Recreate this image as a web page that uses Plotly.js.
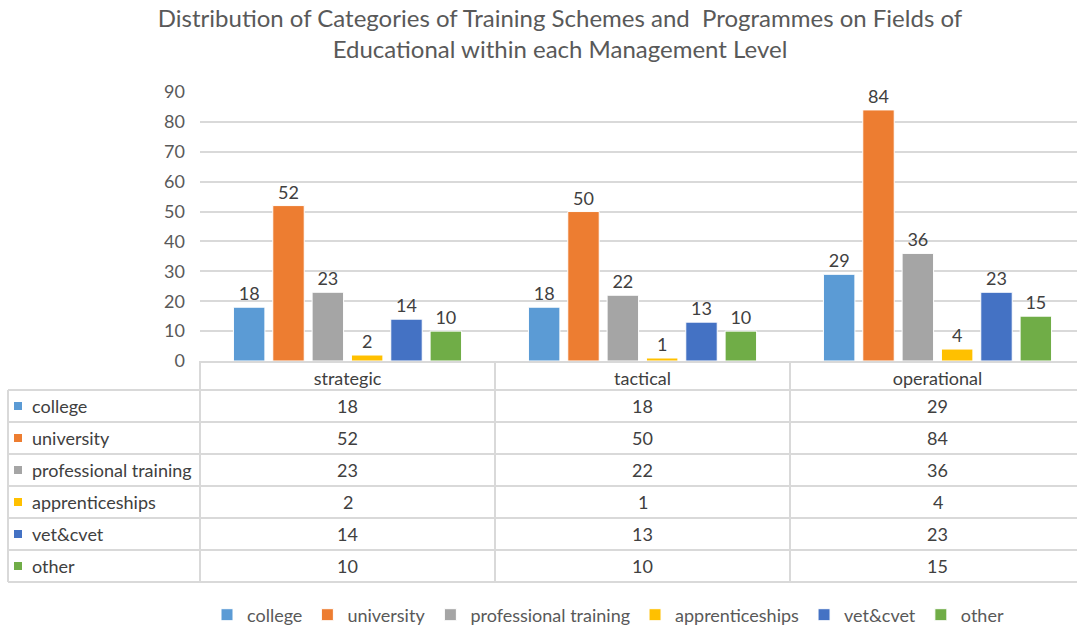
<!DOCTYPE html>
<html>
<head>
<meta charset="utf-8">
<script src="https://cdn.plot.ly/plotly-3.0.1.min.js"></script>
<style>
  html, body { margin: 0; padding: 0; overflow: hidden; background: #fff; }
  #plotArea { width: 1085px; height: 630px; }
</style>
</head>
<body>
<div id="plotArea"></div>
<script>
var categories = ["strategic", "tactical", "operational"];
var seriesNames = ["college", "university", "professional training", "apprenticeships", "vet&cvet", "other"];
var college = [18, 18, 29];
var university = [52, 50, 84];
var professional = [23, 22, 36];
var apprenticeships = [2, 1, 4];
var vetCvet = [14, 13, 23];
var other = [10, 10, 15];
var colors = ["#5B9BD5", "#ED7D31", "#A5A5A5", "#FFC000", "#4472C4", "#70AD47"];

var series = [college, university, professional, apprenticeships, vetCvet, other];

// page geometry (pixels) used to place the data table under the plot
var W = 1085, H = 630, L = 200, T = 92, B = 269;
var plotW = W - L, plotH = H - T - B;
function px(x) { return (x - L) / plotW; }
function py(y) { return (H - B - y) / plotH; }

var font = "Lato, 'Open Sans', sans-serif";
var fs = 18;
var gridCol = "#d9d9d9";

var traces = series.map(function (vals, i) {
  return {
    type: "bar",
    name: seriesNames[i],
    x: categories,
    y: vals,
    text: vals.map(String),
    textposition: "outside",
    cliponaxis: false,
    textfont: { family: font, size: fs, color: "#404040" },
    marker: { color: colors[i], line: { color: "#ffffff", width: 1 } }
  };
});

var shapes = [];
var annotations = [];
var rowTop = 390, rowH = 32, headTop = 361;
var colEdges = [200, 495, 790, 1085];
var tableBottom = rowTop + rowH * seriesNames.length;

function hline(y, x0, x1) {
  shapes.push({ type: "line", xref: "paper", yref: "paper", x0: px(x0), x1: px(x1), y0: py(y), y1: py(y),
    line: { color: gridCol, width: 2 } });
}
function vline(x, y0, y1) {
  shapes.push({ type: "line", xref: "paper", yref: "paper", x0: px(x), x1: px(x), y0: py(y0), y1: py(y1),
    line: { color: gridCol, width: 2 } });
}

for (var r = 0; r <= seriesNames.length; r++) hline(rowTop + r * rowH, 8, W);
colEdges.forEach(function (x) { vline(x, headTop, tableBottom); });
vline(8, rowTop, tableBottom);

seriesNames.forEach(function (name, i) {
  var cy = rowTop + rowH * i + rowH / 2;
  shapes.push({ type: "rect", xref: "paper", yref: "paper", x0: px(14), x1: px(22), y0: py(cy - 4), y1: py(cy + 4),
    fillcolor: colors[i], line: { width: 0 } });
  annotations.push({ xref: "paper", yref: "paper", x: px(30), y: py(cy), xanchor: "left", yanchor: "middle",
    text: name, showarrow: false, font: { family: font, size: fs, color: "#404040" } });
  categories.forEach(function (c, j) {
    annotations.push({ xref: "paper", yref: "paper", x: px((colEdges[j] + colEdges[j + 1]) / 2), y: py(cy),
      xanchor: "center", yanchor: "middle", text: String(series[i][j]), showarrow: false,
      font: { family: font, size: fs, color: "#404040" } });
  });
});

var layout = {
  width: W,
  height: H,
  margin: { l: L, r: 0, t: T, b: B },
  paper_bgcolor: "#ffffff",
  plot_bgcolor: "#ffffff",
  font: { family: font, color: "#595959" },
  title: {
    text: "Distribution of Categories of Training Schemes and  Programmes on Fields of<br>Educational within each Management Level",
    font: { family: font, size: 24, color: "#595959" },
    xref: "container", x: 560 / W, xanchor: "center",
    yref: "container", y: 1 - 27 / H, yanchor: "middle"
  },
  barmode: "group",
  bargap: 0.2,
  bargroupgap: 0.2,
  xaxis: {
    type: "category",
    showline: true,
    linecolor: gridCol,
    linewidth: 2,
    ticks: "",
    tickfont: { family: font, size: fs, color: "#404040" },
    fixedrange: true
  },
  yaxis: {
    range: [0, 90],
    dtick: 10,
    showgrid: true,
    gridcolor: gridCol,
    gridwidth: 2,
    zeroline: false,
    showline: false,
    ticks: "",
    ticklabelstandoff: 14,
    tickfont: { family: font, size: fs, color: "#595959" },
    fixedrange: true
  },
  showlegend: true,
  legend: {
    orientation: "h",
    xref: "container", yref: "container",
    x: 608 / W, xanchor: "center",
    y: 15 / H, yanchor: "middle",
    font: { family: font, size: fs, color: "#595959" },
    itemclick: false
  },
  shapes: shapes,
  annotations: annotations
};

Plotly.newPlot("plotArea", traces, layout, { displayModeBar: false, staticPlot: true });
</script>
</body>
</html>
